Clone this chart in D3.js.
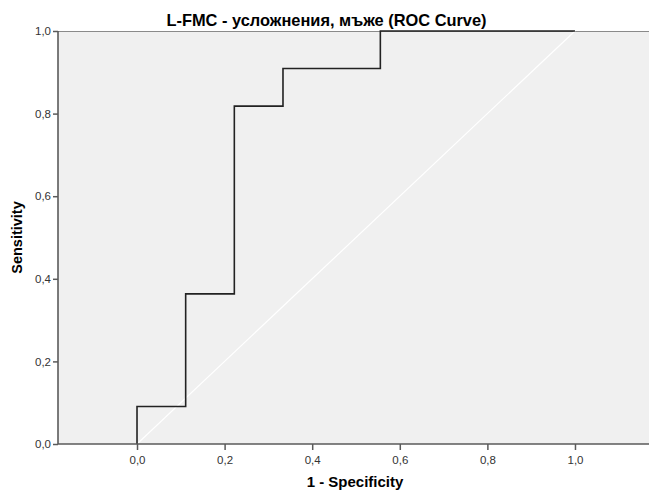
<!DOCTYPE html>
<html>
<head>
<meta charset="utf-8">
<script src="https://cdn.jsdelivr.net/npm/d3@7"></script>
<style>
  html, body { margin: 0; padding: 0; background: #fff; }
  svg { display: block; }
  text { font-family: "Liberation Sans", Arial, sans-serif; }
</style>
</head>
<body>
<svg id="chart" width="649" height="490"></svg>
<script>
// ROC curve points: 1 - specificity (x) and sensitivity (y)
const fpr = [0, 0, 0.1111, 0.1111, 0.2222, 0.2222, 0.3333, 0.3333, 0.5556, 0.5556, 1];
const tpr = [0, 0.0909, 0.0909, 0.3636, 0.3636, 0.8182, 0.8182, 0.9091, 0.9091, 1, 1];
// Reference line
const refX = [0, 1];
const refY = [0, 1];
const xTicks = [0, 0.2, 0.4, 0.6, 0.8, 1.0];
const yTicks = [0, 0.2, 0.4, 0.6, 0.8, 1.0];
const title = "L-FMC - усложнения, мъже (ROC Curve)";
const xTitle = "1 - Specificity";
const yTitle = "Sensitivity";

const W = 649, H = 490;
const plot = { left: 58, top: 31, right: 649, bottom: 444 };

const svg = d3.select("#chart");
const x = d3.scaleLinear().domain([-0.1804, 1.169]).range([plot.left, plot.right]);
const y = d3.scaleLinear().domain([0, 1]).range([plot.bottom, plot.top]);
const fmt = d => d3.format(".1f")(d).replace(".", ",");

// plot background
svg.append("rect")
  .attr("x", plot.left).attr("y", plot.top)
  .attr("width", plot.right - plot.left).attr("height", plot.bottom - plot.top)
  .attr("fill", "#f0f0f0");

// top frame line
svg.append("line")
  .attr("x1", plot.left).attr("x2", plot.right)
  .attr("y1", plot.top + 0.5).attr("y2", plot.top + 0.5)
  .attr("stroke", "#8a8a8a").attr("stroke-width", 1.2);

// diagonal reference
svg.append("path")
  .datum(refX.map((v, i) => [v, refY[i]]))
  .attr("d", d3.line().x(d => x(d[0])).y(d => y(d[1])))
  .attr("fill", "none").attr("stroke", "#ffffff").attr("stroke-width", 1.2);

// ROC step curve
svg.append("path")
  .datum(fpr.map((v, i) => [v, tpr[i]]))
  .attr("d", d3.line().x(d => x(d[0])).y(d => y(d[1])))
  .attr("fill", "none").attr("stroke", "#222222").attr("stroke-width", 1.6);

// axes
const xAxis = svg.append("g")
  .attr("transform", `translate(0,${plot.bottom})`)
  .call(d3.axisBottom(x).tickValues(xTicks).tickFormat(fmt).tickSize(6).tickPadding(6));
const yAxis = svg.append("g")
  .attr("transform", `translate(${plot.left},0)`)
  .call(d3.axisLeft(y).tickValues(yTicks).tickFormat(fmt).tickSize(5).tickPadding(2));

[xAxis, yAxis].forEach(g => {
  g.select(".domain").attr("stroke", "#5a5a5a").attr("stroke-width", 1.6);
  g.selectAll(".tick line").attr("stroke", "#5a5a5a").attr("stroke-width", 1.5);
  g.selectAll(".tick text").attr("fill", "#333").style("font-size", "11.5px")
    .style("font-family", "'Liberation Sans', Arial, sans-serif");
});
xAxis.select(".domain").attr("d", `M${plot.left},0H${plot.right}`);
yAxis.select(".domain").attr("d", `M0,${plot.bottom}V${plot.top}`);

// titles
svg.append("text")
  .attr("x", 326.5).attr("y", 26)
  .attr("text-anchor", "middle")
  .style("font-size", "16.4px").style("font-weight", "bold").attr("fill", "#000")
  .text(title);

svg.append("text")
  .attr("x", 355).attr("y", 487)
  .attr("text-anchor", "middle")
  .style("font-size", "15px").style("font-weight", "bold").attr("fill", "#000")
  .text(xTitle);

svg.append("text")
  .attr("transform", `translate(22,${(plot.top + plot.bottom) / 2}) rotate(-90)`)
  .attr("text-anchor", "middle")
  .style("font-size", "14.5px").style("font-weight", "bold").attr("fill", "#000")
  .text(yTitle);
</script>
</body>
</html>
